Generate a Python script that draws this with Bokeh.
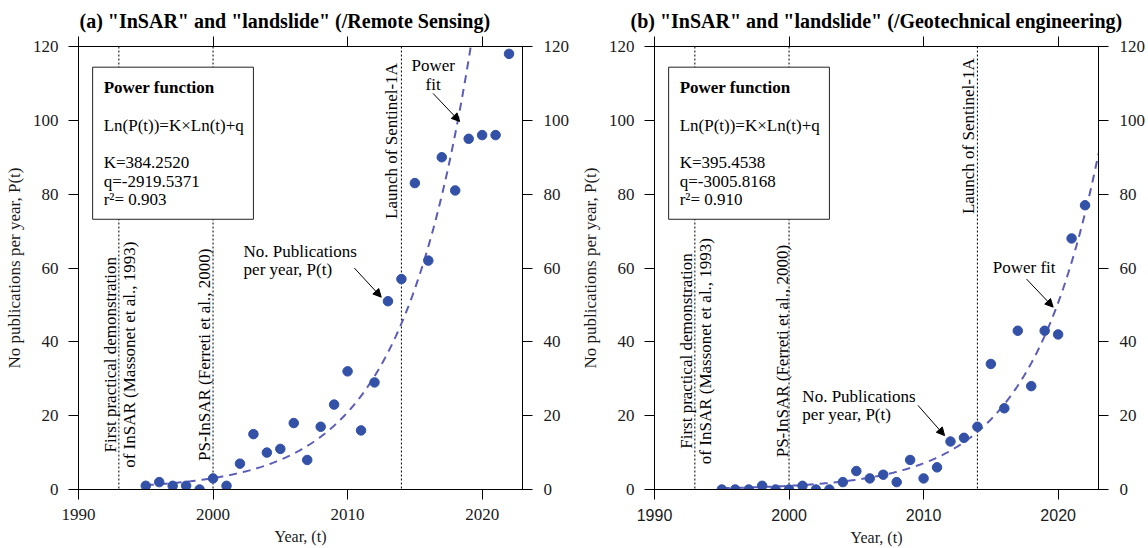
import numpy as np
from math import pi
from bokeh.plotting import figure
from bokeh.layouts import row
from bokeh.models import LinearAxis, FixedTicker, Span, Label, Arrow, NormalHead
from bokeh.embed import file_html
from bokeh.resources import INLINE

# Publications per year
years = list(range(1995, 2023))
pubs_rs = [1, 2, 1, 1, 0, 3, 1, 7, 15, 10, 11, 18, 8, 17, 23, 32, 16, 29, 51, 57,
           83, 62, 90, 81, 95, 96, 96, 118]
pubs_ge = [0, 0, 0, 1, 0, 0, 1, 0, 0, 2, 5, 3, 4, 2, 8, 3, 6, 13, 14, 17,
           34, 22, 43, 28, 43, 42, 68, 77]

# Power-function fit parameters: Ln(P(t)) = K x Ln(t) + q
K_rs, q_rs, r2_rs = 384.2520, -2919.5371, "0.903"
K_ge, q_ge, r2_ge = 395.4538, -3005.8168, "0.910"

milestones = [1993, 2000, 2014]
x_ticks = [1990, 2000, 2010, 2020]
y_ticks = [0, 20, 40, 60, 80, 100, 120]

SERIF = "Liberation Serif"
SANS = "Liberation Sans"
DOT = "#3451a8"
FIT = "#5b5bb8"


def make_panel(title, title_offset, pubs, K, q, r2, left_border, right_border,
               xtick_font, xtick_size, caps):
    p = figure(width=574, height=548, x_range=(1990, 2023), y_range=(0, 120),
               output_backend="svg", toolbar_location=None,
               min_border_left=left_border, min_border_right=right_border,
               min_border_top=46, min_border_bottom=59)
    p.grid.visible = False
    p.outline_line_color = "black"
    p.background_fill_color = "white"
    p.border_fill_color = "white"

    p.title.text = title
    p.title.text_font = SERIF
    p.title.text_font_style = "bold"
    p.title.text_font_size = "20px"
    p.title.align = "left"
    p.title.offset = title_offset
    p.title.text_color = "black"

    # axes: labelled bottom/left/right, tick-only top
    xb = p.xaxis[0]
    xb.ticker = FixedTicker(ticks=x_ticks)
    yl = p.yaxis[0]
    yl.ticker = FixedTicker(ticks=y_ticks)
    xt = LinearAxis(ticker=FixedTicker(ticks=x_ticks),
                    major_label_overrides={v: "" for v in x_ticks})
    yr = LinearAxis(ticker=FixedTicker(ticks=y_ticks))
    p.add_layout(xt, "above")
    p.add_layout(yr, "right")
    for ax in (xb, yl, xt, yr):
        ax.axis_line_color = "black"
        ax.major_tick_line_color = "black"
        ax.major_tick_out = 10
        ax.major_tick_in = 0
        ax.minor_tick_line_color = None
        ax.major_label_text_font = SERIF
        ax.major_label_text_font_size = "17px"
        ax.major_label_text_color = "#1a1a1a"
        ax.major_label_standoff = 10
    xb.major_label_text_font = xtick_font
    xb.major_label_text_font_size = xtick_size
    xb.major_label_standoff = 9
    xt.major_label_standoff = 0
    yr.major_label_standoff = 11

    xb.axis_label = "Year, (t)"
    xb.axis_label_text_font = SERIF
    xb.axis_label_text_font_style = "normal"
    xb.axis_label_text_font_size = "16px"
    xb.axis_label_text_color = "#1a1a1a"
    xb.axis_label_standoff = 5
    yl.axis_label = "No publications per year, P(t)"
    yl.axis_label_text_font = SERIF
    yl.axis_label_text_font_style = "normal"
    yl.axis_label_text_font_size = "17px"
    yl.axis_label_text_color = "#1a1a1a"
    yl.axis_label_standoff = 6

    # milestone lines
    for yr_ in milestones:
        p.add_layout(Span(location=yr_, dimension="height", line_color="black",
                          line_width=1, line_dash="2 2", level="underlay"))

    # info box
    box_l, box_r, box_b, box_t = 1991.05, 2003.0, 73.2, 114.4
    p.quad(left=[box_l], right=[box_r], bottom=[box_b], top=[box_t],
           fill_color="white", line_color="#222222", line_width=1)

    # power fit
    t = np.linspace(1995, 2023, 500)
    fit = np.exp(K * np.log(t) + q)
    p.line(t, fit, line_color=FIT, line_width=2, line_dash="8 6")

    # observations
    p.scatter(years, pubs, size=9.5, fill_color=DOT, line_color=DOT)

    # box text
    tx = box_l + 11 / 13.45
    lines = [("Power function", "bold", 108.97),
             ("Ln(P(t))=K\u00d7Ln(t)+q", "normal", 98.56),
             ("K=%.4f" % K, "normal", 88.54),
             ("q=%.4f" % q, "normal", 83.40),
             ("r\u00b2= " + r2, "normal", 78.44)]
    for txt, style, yy in lines:
        p.add_layout(Label(x=tx, y=yy, text=txt, text_font=SERIF,
                           text_font_style=style, text_font_size="17px",
                           text_baseline="middle", text_align="left",
                           text_color="black"))

    # milestone captions (rotated, reading upwards)
    for xx, dx, yy, txt in caps:
        p.add_layout(Label(x=xx, y=yy, x_offset=dx, text=txt, angle=pi / 2,
                           text_font=SERIF, text_font_size="17px",
                           text_align="center", text_baseline="middle",
                           text_color="black"))
    return p


def add_note(p, x, ys, txts, align, arrow):
    for yy, txt in zip(ys, txts):
        p.add_layout(Label(x=x, y=yy, text=txt, text_font=SERIF,
                           text_font_size="17px", text_align=align,
                           text_baseline="middle", text_color="black"))
    x0, y0, x1, y1 = arrow
    p.add_layout(Arrow(end=NormalHead(size=8, fill_color="black", line_color="black"),
                       x_start=x0, y_start=y0, x_end=x1, y_end=y1,
                       line_color="black", line_width=1))


caps_a = [(1993, -8, 36.5, "First practical demonstration"),
          (1993, 11, 36.5, "of InSAR (Massonet et al., 1993)"),
          (2000, -8.5, 36.5, "PS-InSAR (Ferreti et al., 2000)"),
          (2014, -10, 94.4, "Launch of Sentinel-1A")]
caps_b = [(1993, -8, 37.5, "First practical demonstration"),
          (1993, 11, 37.5, "of InSAR (Massonet et al., 1993)"),
          (2000, -7, 37.5, "PS-InSAR (Ferreti et al., 2000)"),
          (2014, -9, 95.7, "Launch of Sentinel-1A")]

pa = make_panel('(a) "InSAR" and "landslide" (/Remote Sensing)', 1,
                pubs_rs, K_rs, q_rs, r2_rs, 78, 52, SERIF, "17px", caps_a)
add_note(pa, 2002.27, [64.46, 59.48], ["No. Publications", "per year, P(t)"], "left",
         (2010.5, 60.0, 2012.5, 52.1))
add_note(pa, 2016.36, [114.84, 109.78], ["Power", "fit"], "center",
         (2016.35, 107.3, 2018.33, 99.7))

pb = make_panel('(b) "InSAR" and "landslide" (/Geotechnical engineering)', -24,
                pubs_ge, K_ge, q_ge, r2_ge, 80, 50, SANS, "16px", caps_b)
add_note(pb, 2000.99, [25.19, 20.21], ["No. Publications", "per year, P(t)"], "left",
         (2009.58, 22.8, 2011.56, 14.6))
add_note(pb, 2015.14, [60.21], ["Power fit"], "left",
         (2017.65, 57.0, 2019.63, 49.4))

layout = row(pa, pb)
open("out.html", "w").write(file_html(layout, INLINE))
